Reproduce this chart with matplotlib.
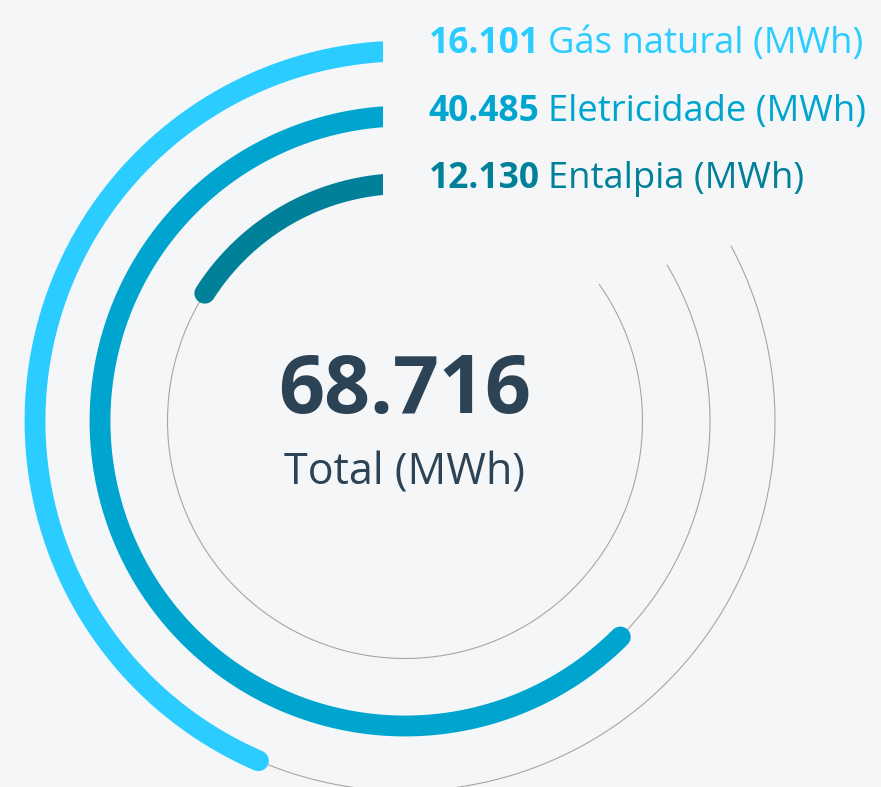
import matplotlib.pyplot as plt
import numpy as np
from matplotlib.patches import Polygon

plt.rcParams["font.family"] = ["Open Sans", "DejaVu Sans"]

# energy use per source, outer ring first
labels = ["Gás natural (MWh)", "Eletricidade (MWh)", "Entalpia (MWh)"]
values = [16.101, 40.485, 12.130]
# value that would fill a whole turn of each ring
full_turn = [37.0, 64.8, 76.0]
colors = ["#2bccff", "#00a5cf", "#008099"]
total_label = "Total (MWh)"

BG = "#f4f6f8"
TEXT = "#2c4255"
TRACK = "#a6a6a6"

W, H = 881, 787
cx, cy = 405, 421
radii = [370, 305, 237.5]
track_end = [28.2, 30.7, 35.1]  # degrees, where each grey guide stops
cut_x = 382.7


def ring_xy(r, a0, a1, n=500):
    t = np.radians(np.linspace(a0, a1, n))
    return cx + r * np.cos(t), cy - r * np.sin(t)


fig = plt.figure(figsize=(W / 100, H / 100), dpi=100, facecolor=BG)
ax = fig.add_axes([0, 0, 1, 1])
ax.set_xlim(0, W)
ax.set_ylim(H, 0)
ax.set_facecolor(BG)
ax.axis("off")

# the rings start with a straight cut left of the label block
clip = Polygon(
    [(0, 0), (cut_x, 0), (cut_x, cy), (W, cy), (W, H), (0, H)],
    closed=True,
    transform=ax.transData,
)

for r, v, full, c, te in zip(radii, values, full_turn, colors, track_end):
    a_end = 90 + 360 * v / full
    ax.plot(*ring_xy(r, a_end, 360 + te), color=TRACK, lw=0.8, zorder=1)
    (arc,) = ax.plot(
        *ring_xy(r, 90, a_end), color=c, lw=15, solid_capstyle="round", zorder=2
    )
    arc.set_clip_path(clip)

# labels top right
for i, (lab, v, c) in enumerate(zip(labels, values, colors)):
    y = 53.3 + i * 67.5
    t = ax.text(428.5, y, f"{v:.3f}", color=c, fontsize=25.5, fontweight="bold",
                ha="left", va="baseline")
    ax.annotate(lab, xy=(1, 0), xycoords=t, xytext=(6, 0),
                textcoords="offset points", color=c, fontsize=26.2,
                ha="left", va="bottom")

# total in the middle
ax.text(cx, 413.3, f"{sum(values):.3f}", color=TEXT, fontsize=58,
        fontweight="bold", ha="center", va="baseline")
ax.text(cx, 484, total_label, color=TEXT, fontsize=31, ha="center", va="baseline")

fig.savefig("out.png", dpi=100, facecolor=BG)
